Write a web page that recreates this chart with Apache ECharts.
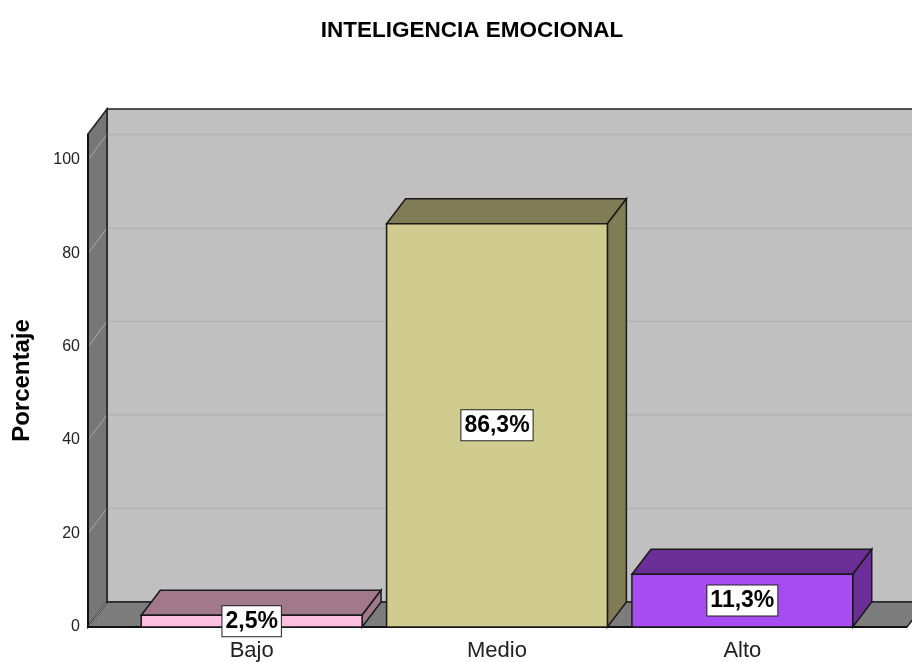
<!DOCTYPE html>
<html>
<head>
<meta charset="utf-8">
<script src="https://cdn.jsdelivr.net/npm/echarts@6/dist/echarts.min.js"></script>
<style>
  html, body { margin: 0; padding: 0; background: #fff; }
  #chart { width: 912px; height: 662px; }
</style>
</head>
<body>
<div id="chart"></div>
<script>
const categories = ['Bajo', 'Medio', 'Alto'];
const percentages = [2.5, 86.3, 11.3];
const yTicks = [0, 20, 40, 60, 80, 100];

// colores: cara frontal / cara superior y lateral
const frontColors = ['#fdc0e1', '#d0cb8f', '#a74cf0'];
const shadeColors = ['#a2798a', '#807c56', '#6a2e96'];

const yMax = 105.5;
const depthX = 19;   // desplazamiento 3D
const depthY = -25;
const FONT = '"Liberation Sans", Arial, sans-serif';

const chart = echarts.init(document.getElementById('chart'));

const renderWalls = (params, api) => {
  const cs = params.coordSys;
  const left = cs.x - 41;
  const right = cs.x + cs.width + 42;
  const bottom = api.coord([0, 0])[1];
  const top = api.coord([0, yMax])[1];
  const children = [];

  // pared del fondo
  children.push({
    type: 'rect',
    shape: { x: left + depthX, y: top + depthY, width: right - left + 30, height: bottom - top },
    style: { fill: '#c0c0c0', stroke: '#222', lineWidth: 1.5 }
  });
  yTicks.forEach((t) => {
    if (t === 0) return;
    const y = api.coord([0, t])[1];
    children.push({
      type: 'line',
      shape: { x1: left + depthX, y1: y + depthY, x2: right + depthX + 30, y2: y + depthY },
      style: { stroke: '#b2b2b2', lineWidth: 1.5 }
    });
  });
  // pared izquierda
  children.push({
    type: 'polygon',
    shape: { points: [[left, top], [left + depthX, top + depthY], [left + depthX, bottom + depthY], [left, bottom]] },
    style: { fill: '#777777', stroke: '#222', lineWidth: 1.5 }
  });
  // suelo
  children.push({
    type: 'polygon',
    shape: { points: [[left, bottom], [left + depthX, bottom + depthY], [right + depthX, bottom + depthY], [right, bottom]] },
    style: { fill: '#7c7c7c', stroke: '#222', lineWidth: 1.5 }
  });
  yTicks.forEach((t) => {
    const y = api.coord([0, t])[1];
    children.push({
      type: 'line',
      shape: { x1: left + 1, y1: y - 1, x2: left + depthX - 1, y2: y + depthY + 1 },
      style: { stroke: '#a8a8a8', lineWidth: 1 }
    });
  });
  // bordes
  children.push({
    type: 'line',
    shape: { x1: left, y1: top, x2: left, y2: bottom },
    style: { stroke: '#111', lineWidth: 2 }
  });
  children.push({
    type: 'line',
    shape: { x1: left, y1: bottom, x2: right, y2: bottom },
    style: { stroke: '#111', lineWidth: 2 }
  });
  return { type: 'group', children: children, silent: true };
};

const renderBar = (params, api) => {
  const idx = api.value(0);
  const val = api.value(1);
  const base = api.coord([idx, 0]);
  const top = api.coord([idx, val]);
  const w = api.size([1, 0])[0] * 0.9;
  const x0 = base[0] - w / 2;
  const x1 = base[0] + w / 2;
  const yt = top[1];
  const yb = base[1];
  const edge = { stroke: '#1a1a1a', lineWidth: 1.5 };
  return {
    type: 'group',
    children: [
      {
        type: 'polygon',
        shape: { points: [[x0, yt], [x0 + depthX, yt + depthY], [x1 + depthX, yt + depthY], [x1, yt]] },
        style: Object.assign({ fill: shadeColors[idx] }, edge)
      },
      {
        type: 'polygon',
        shape: { points: [[x1, yt], [x1 + depthX, yt + depthY], [x1 + depthX, yb + depthY], [x1, yb]] },
        style: Object.assign({ fill: shadeColors[idx] }, edge)
      },
      {
        type: 'rect',
        shape: { x: x0, y: yt, width: w, height: yb - yt },
        style: Object.assign({ fill: frontColors[idx] }, edge)
      },
      {
        type: 'text',
        x: base[0],
        y: (yt + yb) / 2,
        style: {
          text: val.toFixed(1).replace('.', ',') + '%',
          font: 'bold 23px ' + FONT,
          fill: '#000',
          align: 'center',
          verticalAlign: 'middle',
          backgroundColor: '#fff',
          borderColor: '#222',
          borderWidth: 1,
          padding: [4, 3, 3, 3]
        },
        z2: 10
      }
    ]
  };
};

const opciones = {
  animation: false,
  title: {
    text: 'INTELIGENCIA EMOCIONAL',
    left: 467,
    textAlign: 'center',
    top: 14,
    textStyle: { fontFamily: FONT, fontSize: 22.5, fontWeight: 'bold', color: '#000' }
  },
  grid: { left: 129, right: 47, top: 134, bottom: 34 },
  xAxis: {
    type: 'category',
    data: categories,
    axisLine: { show: false },
    axisTick: { show: false },
    axisLabel: { fontFamily: FONT, fontSize: 22, color: '#222', margin: 13 },
    z: 10
  },
  yAxis: {
    type: 'value',
    min: 0,
    max: yMax,
    interval: 20,
    name: 'Porcentaje',
    nameLocation: 'middle',
    nameGap: 95,
    nameTextStyle: { fontFamily: FONT, fontSize: 24, fontWeight: 'bold', color: '#000' },
    axisLine: { show: false },
    axisTick: { show: false },
    splitLine: { show: false },
    axisLabel: { fontFamily: FONT, fontSize: 16, color: '#222', margin: 49, showMaxLabel: false }
  },
  series: [
    {
      name: 'fondo',
      type: 'custom',
      renderItem: renderWalls,
      data: [[0, 0]],
      z: 1,
      silent: true
    },
    {
      name: 'Porcentaje',
      type: 'custom',
      renderItem: renderBar,
      data: percentages.map((v, i) => [i, v]),
      z: 5
    }
  ]
};

chart.setOption(opciones);
</script>
</body>
</html>
